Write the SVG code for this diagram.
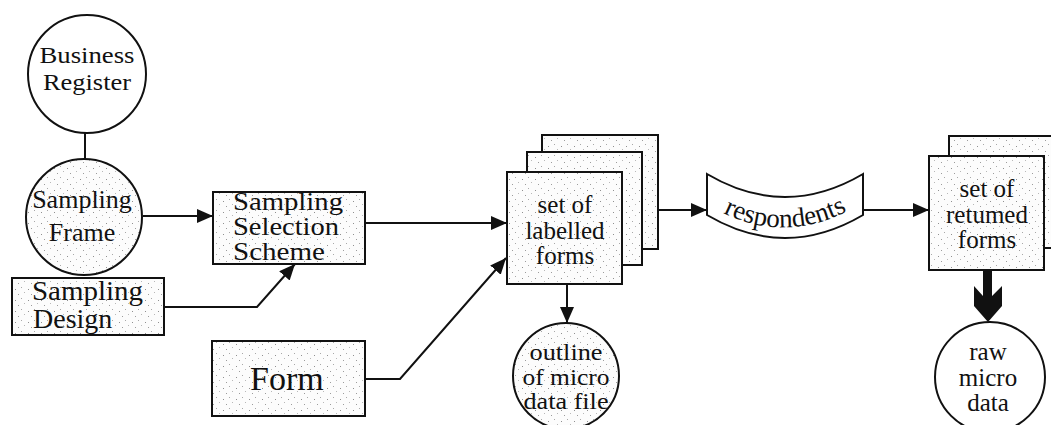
<svg xmlns="http://www.w3.org/2000/svg" width="1051" height="425" viewBox="0 0 1051 425">
<style>
.s{stroke:#111;stroke-width:2;}
.st{fill:url(#stip);}
.w{fill:#fff;}
.t{font-family:"Liberation Serif","Times New Roman",serif;fill:#111;}
.c{text-anchor:middle;}
.ln{fill:none;stroke:#111;stroke-width:2;}
</style>
<defs>
<pattern id="stip" width="13" height="11" patternUnits="userSpaceOnUse">
<rect width="13" height="11" fill="#fcfcfc"/>
<rect x="2" y="3" width="1" height="1" fill="#909090"/>
<rect x="8" y="1" width="1" height="1" fill="#a8a8a8"/>
<rect x="5" y="8" width="1" height="1" fill="#9c9c9c"/>
<rect x="11" y="6" width="1" height="1" fill="#b8b8b8"/>
</pattern>
<marker id="ah" markerUnits="userSpaceOnUse" markerWidth="18" markerHeight="16" refX="16" refY="7" orient="auto">
<path d="M0,0 L16,7 L0,14 Z" fill="#111"/>
</marker>
<path id="rp" d="M710,206 Q785,250 860,204"/>
</defs>

<g id="connectors">
<line class="ln" x1="85" y1="133" x2="85" y2="161"/>
<line class="ln" x1="143" y1="216" x2="213" y2="216" marker-end="url(#ah)"/>
<polyline class="ln" points="164,307 257,307 295,264" marker-end="url(#ah)"/>
<line class="ln" x1="365" y1="223" x2="507" y2="223" marker-end="url(#ah)"/>
<polyline class="ln" points="365,379 400,379 506,258" marker-end="url(#ah)"/>
<line class="ln" x1="642" y1="210" x2="707" y2="210" marker-end="url(#ah)"/>
<line class="ln" x1="567" y1="284" x2="567" y2="323" marker-end="url(#ah)"/>
<line class="ln" x1="863" y1="210" x2="929" y2="210" marker-end="url(#ah)"/>
<polygon points="983,270 992,270 992,296 1002,286 1002,306 988,322 974,306 974,286 983,296" fill="#111"/>
</g>

<g id="business-register">
<circle class="s w" cx="87" cy="74" r="59"/>
<text class="t c" x="87" y="63" font-size="24" textLength="95" lengthAdjust="spacingAndGlyphs">Business</text>
<text class="t c" x="87" y="90" font-size="24" textLength="88" lengthAdjust="spacingAndGlyphs">Register</text>
</g>

<g id="sampling-frame">
<circle class="s st" cx="84" cy="217" r="58"/>
<text class="t c" x="82" y="208" font-size="26">Sampling</text>
<text class="t c" x="82" y="241" font-size="26">Frame</text>
</g>

<g id="sampling-design">
<rect class="s st" x="12" y="278" width="152" height="57"/>
<text class="t" x="32" y="300" font-size="28" textLength="111" lengthAdjust="spacingAndGlyphs">Sampling</text>
<text class="t" x="33" y="328" font-size="28">Design</text>
</g>

<g id="sampling-selection-scheme">
<rect class="s st" x="213" y="192" width="152" height="72"/>
<text class="t" x="233" y="210" font-size="25" textLength="110" lengthAdjust="spacingAndGlyphs">Sampling</text>
<text class="t" x="233" y="235" font-size="25" textLength="106" lengthAdjust="spacingAndGlyphs">Selection</text>
<text class="t" x="233" y="260" font-size="25" textLength="92" lengthAdjust="spacingAndGlyphs">Scheme</text>
</g>

<g id="form">
<rect class="s st" x="212" y="341" width="153" height="75"/>
<text class="t" x="250" y="390" font-size="34">Form</text>
</g>

<g id="labelled-forms">
<rect class="s st" x="542" y="135" width="116" height="114"/>
<rect class="s st" x="527" y="152" width="115" height="113"/>
<rect class="s st" x="507" y="172" width="115" height="112"/>
<text class="t c" x="565" y="213" font-size="25">set of</text>
<text class="t c" x="565" y="239" font-size="25">labelled</text>
<text class="t c" x="565" y="264" font-size="25">forms</text>
</g>

<g id="outline-micro-data-file">
<circle class="s st" cx="566" cy="376" r="53"/>
<text class="t c" x="566" y="360" font-size="24" textLength="73" lengthAdjust="spacingAndGlyphs">outline</text>
<text class="t c" x="566" y="385" font-size="24" textLength="87" lengthAdjust="spacingAndGlyphs">of micro</text>
<text class="t c" x="566" y="409" font-size="24" textLength="85" lengthAdjust="spacingAndGlyphs">data file</text>
</g>

<g id="respondents">
<path class="s w" d="M707,174 Q785,220 863,174 L863,215 Q785,261 707,215 Z"/>
<text class="t" font-size="27"><textPath href="#rp" startOffset="50%" text-anchor="middle">respondents</textPath></text>
</g>

<g id="returned-forms">
<rect class="s st" x="949" y="136" width="115" height="112"/>
<rect class="s st" x="929" y="156" width="115" height="114"/>
<text class="t c" x="987" y="197" font-size="25">set of</text>
<text class="t c" x="987" y="223" font-size="25">retumed</text>
<text class="t c" x="987" y="248" font-size="25">forms</text>
</g>

<g id="raw-micro-data">
<circle class="s w" cx="990" cy="377" r="55"/>
<text class="t c" x="988" y="360" font-size="25">raw</text>
<text class="t c" x="988" y="386" font-size="25">micro</text>
<text class="t c" x="988" y="411" font-size="25">data</text>
</g>
</svg>
